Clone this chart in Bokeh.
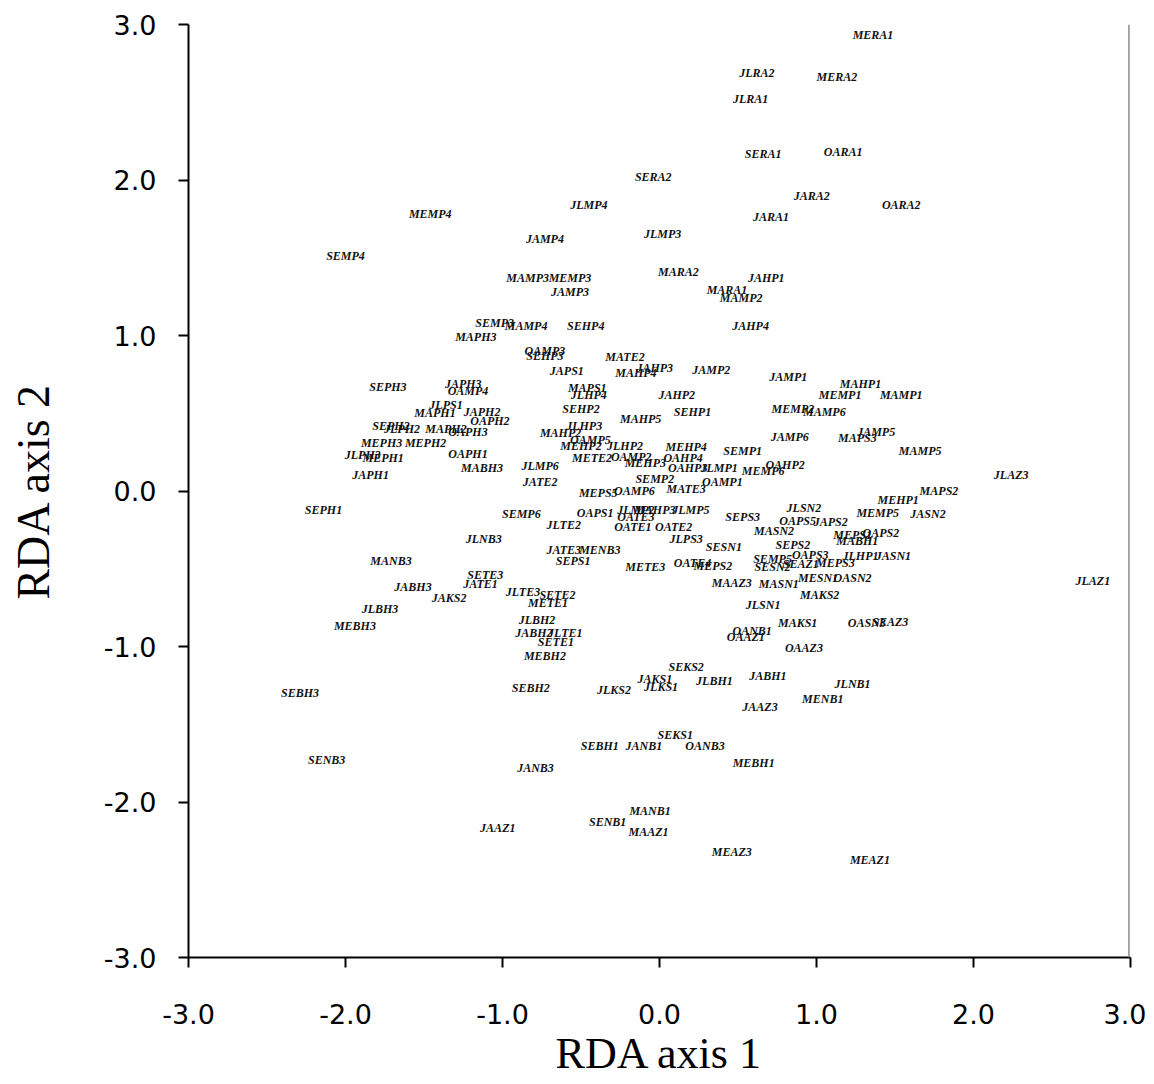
from bokeh.plotting import figure
from bokeh.models import ColumnDataSource, PrintfTickFormatter, FixedTicker, Range1d, Span
from bokeh.core.properties import value
from bokeh.embed import file_html
from bokeh.resources import INLINE

# Sample labels and their RDA scores (axis 1, axis 2)
labels = [
    "MERA1", "JLRA2", "MERA2", "JLRA1", "SERA1", "OARA1", "SERA2", "JARA2", "OARA2", "JLMP4",
    "JARA1", "MEMP4", "JLMP3", "JAMP4", "SEMP4", "MARA2", "JAHP1", "MAMP3", "MEMP3", "MARA1",
    "JAMP3", "MAMP2", "SEMP3", "MAMP4", "SEHP4", "JAHP4", "MAPH3", "OAMP3", "SEHP3", "MATE2",
    "JAPS1", "JAHP3", "MAHP4", "JAMP2", "JAMP1", "SEPH3", "JAPH3", "OAMP4", "MAHP1", "MAPS1",
    "JLHP4", "MEMP1", "MAMP1", "JAHP2", "JLPS1", "MAPH1", "JAPH2", "OAPH2", "SEHP2", "SEHP1",
    "MAHP5", "MEMP2", "MAMP6", "SEPH2", "JLPH2", "MAPH2", "OAPH3", "JLHP3", "MAHP2", "OAMP5",
    "MEHP2", "JLHP2", "MEHP4", "METE2", "OAMP2", "MEHP3", "OAHP4", "OAHP3", "JLMP1", "SEMP1",
    "MEMP6", "OAHP2", "JAMP6", "MAPS3", "JAMP5", "MAMP5", "MEPH3", "MEPH2", "OAPH1", "JLPH3",
    "MEPH1", "MABH3", "JAPH1", "JLMP6", "JATE2", "SEMP2", "MEPS5", "OAMP6", "MATE3", "OAMP1",
    "SEMP6", "OAPS1", "JLMP2", "MAHP3", "JLMP5", "OATE3", "OATE1", "OATE2", "JLTE2", "JLPS3",
    "JLNB3", "JATE3", "MENB3", "SEPS1", "METE3", "OATE4", "MEPS2", "SETE3", "JATE1", "JAKS2",
    "JLTE3", "SETE2", "METE1", "MANB3", "JABH3", "JLBH3", "MEBH3", "JLBH2", "JABH2", "JLTE1",
    "SETE1", "MEBH2", "SEBH2", "SEBH3", "SENB3", "JLKS2", "JAKS1", "JLKS1", "SEKS2", "JLBH1",
    "JABH1", "JLNB1", "MENB1", "JAAZ3", "SEKS1", "JANB1", "SEBH1", "OANB3", "MEBH1", "JANB3",
    "OANB1", "OAAZ1", "MAKS1", "OAAZ3", "OASN3", "SEAZ3", "JLSN1", "MAKS2", "MAAZ3", "MASN1",
    "MESN1", "OASN2", "SEMP5", "SESN2", "SEAZ1", "OAPS3", "SEPS2", "MEPS3", "JLHP1", "JASN1",
    "MEPS1", "OAPS2", "MABH1", "MASN2", "SEPS3", "SESN1", "JLSN2", "OAPS5", "JAPS2", "MEHP1",
    "MEMP5", "JASN2", "MAPS2", "JLAZ3", "JLAZ1", "SEPH1", "MANB1", "SENB1", "MAAZ1", "JAAZ1",
    "MEAZ3", "MEAZ1",
]

axis1 = [
    1.36, 0.62, 1.13, 0.58, 0.66, 1.17, -0.04, 0.97, 1.54, -0.45,
    0.71, -1.46, 0.02, -0.73, -2.00, 0.12, 0.68, -0.84, -0.57, 0.43,
    -0.57, 0.52, -1.05, -0.85, -0.47, 0.58, -1.17, -0.73, -0.73, -0.22,
    -0.59, -0.03, -0.15, 0.33, 0.82, -1.73, -1.25, -1.22, 1.28, -0.46,
    -0.45, 1.15, 1.54, 0.11, -1.36, -1.43, -1.13, -1.08, -0.50, 0.21,
    -0.12, 0.85, 1.05, -1.71, -1.64, -1.36, -1.22, -0.48, -0.63, -0.44,
    -0.50, -0.22, 0.17, -0.43, -0.18, -0.09, 0.15, 0.18, 0.38, 0.53,
    0.66, 0.80, 0.83, 1.26, 1.38, 1.66, -1.77, -1.49, -1.22, -1.89,
    -1.76, -1.13, -1.84, -0.76, -0.76, -0.03, -0.39, -0.16, 0.17, 0.40,
    -0.88, -0.41, -0.15, -0.03, 0.20, -0.15, -0.17, 0.09, -0.61, 0.17,
    -1.12, -0.61, -0.38, -0.55, -0.09, 0.21, 0.34, -1.11, -1.14, -1.34,
    -0.87, -0.65, -0.71, -1.71, -1.57, -1.78, -1.94, -0.78, -0.80, -0.60,
    -0.66, -0.73, -0.82, -2.29, -2.12, -0.29, -0.03, 0.01, 0.17, 0.35,
    0.69, 1.23, 1.04, 0.64, 0.10, -0.10, -0.38, 0.29, 0.60, -0.79,
    0.59, 0.55, 0.88, 0.92, 1.32, 1.47, 0.66, 1.02, 0.46, 0.76,
    1.01, 1.23, 0.72, 0.72, 0.90, 0.96, 0.85, 1.12, 1.28, 1.49,
    1.23, 1.41, 1.26, 0.73, 0.53, 0.41, 0.92, 0.88, 1.09, 1.52,
    1.39, 1.71, 1.78, 2.24, 2.76, -2.14, -0.06, -0.33, -0.07, -1.03,
    0.46, 1.34,
]

axis2 = [
    2.93, 2.69, 2.66, 2.52, 2.17, 2.18, 2.02, 1.90, 1.84, 1.84,
    1.76, 1.78, 1.65, 1.62, 1.51, 1.41, 1.37, 1.37, 1.37, 1.29,
    1.28, 1.24, 1.08, 1.06, 1.06, 1.06, 0.99, 0.90, 0.87, 0.86,
    0.77, 0.79, 0.76, 0.78, 0.73, 0.67, 0.69, 0.64, 0.69, 0.66,
    0.62, 0.62, 0.62, 0.62, 0.55, 0.50, 0.51, 0.45, 0.53, 0.51,
    0.46, 0.53, 0.51, 0.42, 0.40, 0.40, 0.38, 0.42, 0.37, 0.33,
    0.29, 0.29, 0.28, 0.21, 0.22, 0.18, 0.21, 0.15, 0.15, 0.26,
    0.13, 0.17, 0.35, 0.34, 0.38, 0.26, 0.31, 0.31, 0.24, 0.23,
    0.21, 0.15, 0.10, 0.16, 0.06, 0.08, -0.01, 0.00, 0.01, 0.06,
    -0.15, -0.14, -0.12, -0.12, -0.12, -0.17, -0.23, -0.23, -0.22, -0.31,
    -0.31, -0.38, -0.38, -0.45, -0.49, -0.46, -0.48, -0.54, -0.60, -0.69,
    -0.65, -0.67, -0.72, -0.45, -0.62, -0.76, -0.87, -0.83, -0.91, -0.91,
    -0.97, -1.06, -1.27, -1.30, -1.73, -1.28, -1.21, -1.26, -1.13, -1.22,
    -1.19, -1.24, -1.34, -1.39, -1.57, -1.64, -1.64, -1.64, -1.75, -1.78,
    -0.90, -0.94, -0.85, -1.01, -0.85, -0.84, -0.73, -0.67, -0.59, -0.60,
    -0.56, -0.56, -0.44, -0.49, -0.47, -0.41, -0.35, -0.46, -0.42, -0.42,
    -0.28, -0.27, -0.32, -0.26, -0.17, -0.36, -0.11, -0.19, -0.20, -0.06,
    -0.14, -0.15, 0.00, 0.10, -0.58, -0.12, -2.06, -2.13, -2.19, -2.17,
    -2.32, -2.37,
]

tick_values = [-3, -2, -1, 0, 1, 2, 3]
x_title = "RDA axis 1"
y_title = "RDA axis 2"

source = ColumnDataSource(data=dict(x=axis1, y=axis2, label=labels))

p = figure(
    width=1146, height=1080,
    x_range=Range1d(-3, 3), y_range=Range1d(-3, 3),
    output_backend="svg", toolbar_location=None,
    min_border_left=188, min_border_right=16, min_border_top=24, min_border_bottom=120,
)
p.outline_line_color = None
p.grid.visible = False
p.background_fill_color = "white"
p.border_fill_color = "white"

p.text(x="x", y="y", text="label", source=source,
       text_align="center", text_baseline="middle",
       text_font=value("Liberation Serif"), text_font_style="bold italic",
       text_font_size="12px", text_color="#111111")

# faint right-hand frame line visible in the original
p.add_layout(Span(location=2.99, dimension="height", line_color="#8a8a8a", line_width=1.5))

for ax in (p.xaxis[0], p.yaxis[0]):
    ax.ticker = FixedTicker(ticks=tick_values)
    ax.formatter = PrintfTickFormatter(format="%.1f")
    ax.axis_line_color = "black"
    ax.axis_line_width = 2
    ax.major_tick_line_color = "black"
    ax.major_tick_line_width = 2
    ax.major_tick_out = 10
    ax.major_tick_in = 0
    ax.minor_tick_line_color = None
    ax.major_label_text_font = "DejaVu Sans"
    ax.major_label_text_font_size = "27px"
    ax.major_label_text_color = "black"
    ax.axis_label_text_font = "Liberation Serif"
    ax.axis_label_text_font_style = "normal"
    ax.axis_label_text_color = "black"

p.xaxis.axis_label = x_title
p.yaxis.axis_label = y_title
p.xaxis.axis_label_text_font_size = "44px"
p.yaxis.axis_label_text_font_size = "46px"
p.xaxis.major_label_standoff = 36
p.xaxis.axis_label_standoff = 2
p.yaxis.major_label_standoff = 22
p.yaxis.axis_label_standoff = 42

open("out.html", "w").write(file_html(p, INLINE))
